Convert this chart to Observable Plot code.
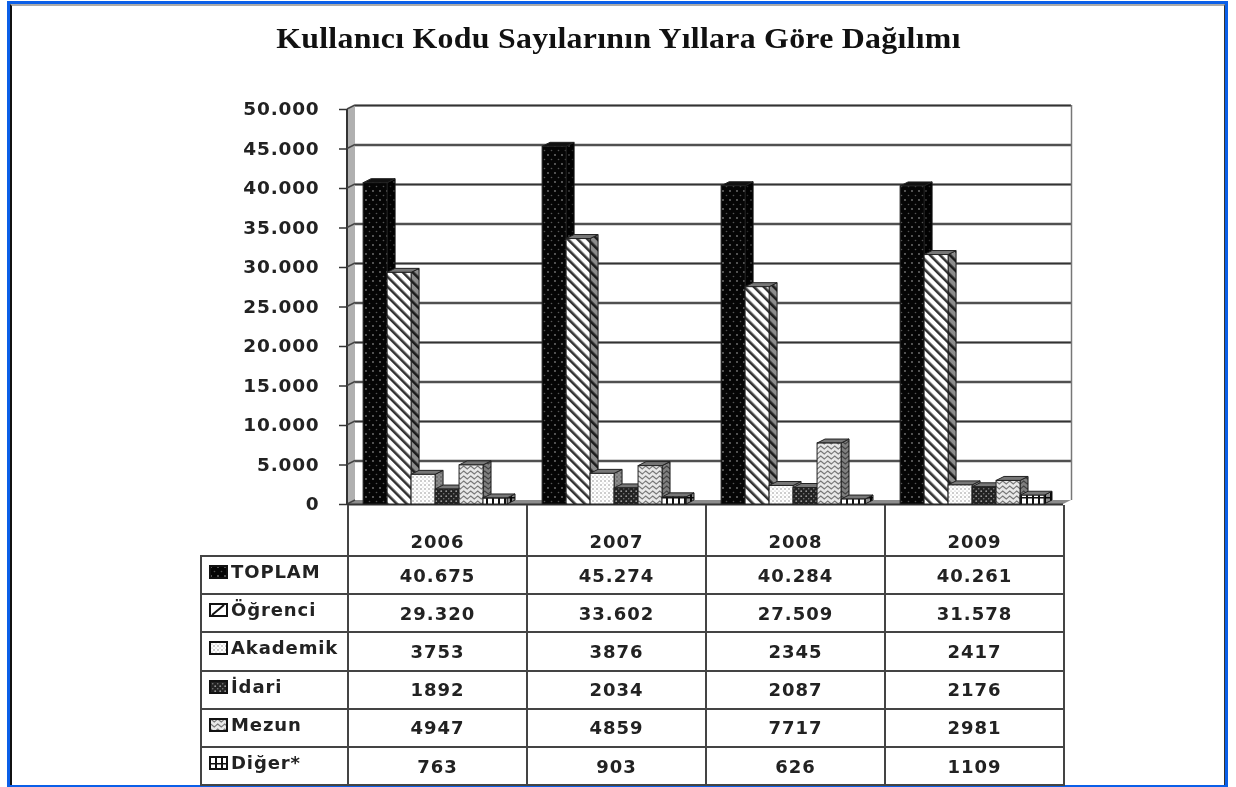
<!DOCTYPE html>
<html lang="tr">
<head>
<meta charset="utf-8">
<script src="https://cdn.jsdelivr.net/npm/d3@7"></script>
<script src="https://cdn.jsdelivr.net/npm/@observablehq/plot@0.6"></script>
<style>
html,body{margin:0;padding:0;background:#fff;width:1236px;height:787px;overflow:hidden}
#frame{position:absolute;left:7px;top:1px;width:1221px;height:786px;box-sizing:border-box;border:3px solid #0b5fe8;border-bottom-width:2px}
#frame:before{content:"";position:absolute;inset:0;border-left:2px solid #111;border-right:1px solid #333;border-top:2px solid #aaa;}
#title{position:absolute;left:0;width:1236px;top:22px;text-align:center;font:bold 29px "Liberation Serif",serif;color:#111;letter-spacing:.25px;transform:translateX(.5px) scaleX(1.098);filter:blur(.4px)}
#chart{position:absolute;left:0;top:0;filter:blur(.45px)}
#chart text{letter-spacing:.8px}
#tbl{position:absolute;left:200px;top:505px;border-collapse:collapse;table-layout:fixed;width:863px;font:bold 18px "DejaVu Sans",sans-serif;color:#222;filter:blur(.4px)}
#tbl td{border:2px solid #444;padding:0;text-align:center;height:38.2px;box-sizing:border-box;letter-spacing:1px}
#tbl tr.head td{height:51px;vertical-align:bottom;padding-bottom:3px;border-top:0}
#tbl tr.head td.blank{border:0;border-bottom:2px solid #444}
#tbl td.name{text-align:left;padding:0 0 7px 7px;white-space:nowrap;letter-spacing:.9px}
#tbl td.name svg{vertical-align:-1px;margin-right:3px}
</style>
</head>
<body>
<div id="frame"></div>
<div id="title">Kullanıcı Kodu Sayılarının Yıllara Göre Dağılımı</div>
<div id="chart"></div>
<table id="tbl"></table>
<script>
const years = ["2006", "2007", "2008", "2009"];
const seriesNames = ["TOPLAM", "Öğrenci", "Akademik", "İdari", "Mezun", "Diğer*"];
const toplam = [40675, 45274, 40284, 40261];
const ogrenci = [29320, 33602, 27509, 31578];
const akademik = [3753, 3876, 2345, 2417];
const idari = [1892, 2034, 2087, 2176];
const mezun = [4947, 4859, 7717, 2981];
const diger = [763, 903, 626, 1109];
const seriesValues = [toplam, ogrenci, akademik, idari, mezun, diger];
const dottedSeries = ["TOPLAM", "Öğrenci"];
const yTicks = [0, 5000, 10000, 15000, 20000, 25000, 30000, 35000, 40000, 45000, 50000];

const patternIds = ["pT", "pO", "pA", "pI", "pM", "pD"];
const fmt = d3.formatLocale({decimal: ",", thousands: ".", grouping: [3], currency: ["", ""]}).format(",");

// depth of the pseudo-3D chart in pixels
const DX = 8, DY = 4;
const GROUP_PAD = 0.09, BAR = 0.134;

const rows = seriesNames.flatMap((name, s) => years.map((year, i) => ({
  name, year, value: seriesValues[s][i],
  x1: i + GROUP_PAD + s * BAR,
  x2: i + GROUP_PAD + (s + 1) * BAR
})));

const poly = (g, pts, fill, stroke = "none", sw = 0) =>
  g.append("polygon").attr("points", pts.map(p => p.join(",")).join(" "))
   .attr("fill", fill).attr("stroke", stroke).attr("stroke-width", sw);

const defsMark = () => {
  const svg = d3.create("svg:g");
  const defs = svg.append("defs");
  const pat = (id, w, h, inner, tr) => {
    const p = defs.append("pattern").attr("id", id).attr("width", w).attr("height", h).attr("patternUnits", "userSpaceOnUse");
    if (tr) p.attr("patternTransform", tr);
    p.html(inner);
  };
  pat("pT", 7, 9, '<rect width="7" height="9" fill="#050505"/><circle cx="2" cy="2" r=".9" fill="#777"/><circle cx="5.5" cy="6.5" r=".8" fill="#555"/>');
  pat("pO", 7, 7, '<rect width="7" height="7" fill="#fff"/><rect width="2.6" height="7" fill="#333"/>', "rotate(-45)");
  pat("pA", 4, 4, '<rect width="4" height="4" fill="#fff"/><circle cx="1" cy="1" r=".7" fill="#777"/><circle cx="3" cy="3" r=".6" fill="#aaa"/>');
  pat("pI", 5, 5, '<rect width="5" height="5" fill="#222"/><circle cx="1.2" cy="1.2" r=".9" fill="#999"/><circle cx="3.7" cy="3.7" r=".8" fill="#777"/>');
  pat("pM", 7, 5, '<rect width="7" height="5" fill="#e8e8e8"/><path d="M0 2.5 L1.75 1 L3.5 2.5 L5.25 4 L7 2.5" fill="none" stroke="#777" stroke-width="1.1"/>');
  pat("pD", 6, 7, '<rect width="6" height="7" fill="#fff"/><rect width="2" height="7" fill="#111"/><rect width="6" height="1.5" fill="#111"/>');
  return svg.node();
};

const wallsMark = (index, {x, y}) => {
  const g = d3.create("svg:g");
  const x0 = x(0), x4 = x(4), y0 = y(0), yt = y(50000);
  poly(g, [[x0, y0], [x0 + DX, y0 - DY], [x0 + DX, yt - DY], [x0, yt]], "#b0b0b0");
  poly(g, [[x0, y0], [x4, y0], [x4 + DX, y0 - DY], [x0 + DX, y0 - DY]], "#8c8c8c");
  g.append("line").attr("x1", x0).attr("x2", x0).attr("y1", y0).attr("y2", yt).attr("stroke", "#333").attr("stroke-width", 2);
  for (const t of yTicks) {
    g.append("line").attr("x1", x0).attr("x2", x0 + DX).attr("y1", y(t)).attr("y2", y(t) - DY).attr("stroke", "#444").attr("stroke-width", 1.5);
  }
  return g.node();
};

const facesMark = (name, patternId) => (index, {x, y}) => {
  const g = d3.create("svg:g");
  for (const d of rows.filter(r => r.name === name)) {
    const l = x(d.x1), r = x(d.x2), t = y(d.value), b = y(0);
    const side = [[r, b], [r + DX, b - DY], [r + DX, t - DY], [r, t]];
    poly(g, side, `url(#${patternId})`, "#222", 1);
    poly(g, side, "rgba(0,0,0,.45)");
    poly(g, [[l, t], [l + DX, t - DY], [r + DX, t - DY], [r, t]], name === "TOPLAM" ? "#111" : "#777", "#222", 1);
  }
  return g.node();
};

const barMarks = seriesNames.flatMap((name, s) => [
  facesMark(name, patternIds[s]),
  Plot.rectY(rows.filter(r => r.name === name), {
    x1: "x1", x2: "x2", y: "value",
    fill: `url(#${patternIds[s]})`, stroke: "#222", strokeWidth: 1, inset: 0
  })
]);

const plot = Plot.plot({
  width: 1236, height: 787,
  marginLeft: 347, marginRight: 173, marginTop: 109, marginBottom: 283,
  style: {background: "transparent", overflow: "visible"},
  x: {domain: [0, 4], axis: null},
  y: {domain: [0, 50000], axis: null},
  marks: [
    defsMark,
    wallsMark,
    Plot.ruleY(yTicks.filter(t => t > 0), {x1: 0, x2: 4, dx: DX, dy: -DY, stroke: "#a8a8a8", strokeWidth: 3.2}),
    Plot.ruleY(yTicks.filter(t => t > 0), {x1: 0, x2: 4, dx: DX, dy: -DY, stroke: "#333", strokeWidth: 1.3}),
    Plot.ruleX([4], {y1: 0, y2: 50000, dx: DX, dy: -DY, stroke: "#777", strokeWidth: 1.5}),
    Plot.ruleY([0], {x1: 0, x2: 4, stroke: "#333", strokeWidth: 2}),
    ...barMarks,
    Plot.axisY({
      ticks: yTicks, tickFormat: d => fmt(d), tickSize: 8, tickPadding: 20, label: null,
      fontSize: 18.5, fontWeight: "bold", fontFamily: "DejaVu Sans", fill: "#222", stroke: "#333", strokeWidth: 1.5,
      marginLeft: 347
    })
  ]
});
document.getElementById("chart").appendChild(plot);

// Data table under the chart, aligned with the year groups
const cellText = (name, v) => dottedSeries.includes(name) ? fmt(v) : String(v);
const tbl = d3.select("#tbl");
const cg = tbl.append("colgroup");
cg.append("col").style("width", "147px");
years.forEach(() => cg.append("col").style("width", "179px"));
const head = tbl.append("tr").attr("class", "head");
head.append("td").attr("class", "blank");
years.forEach(y => head.append("td").text(y));
seriesNames.forEach((name, s) => {
  const tr = tbl.append("tr");
  const td = tr.append("td").attr("class", "name");
  const swatch = name === "Öğrenci"
    ? '<rect x="1" y="1" width="17" height="12" fill="#fff" stroke="#111" stroke-width="2"/><line x1="3" y1="12" x2="15" y2="2" stroke="#111" stroke-width="2"/>'
    : `<rect x="1" y="1" width="17" height="12" fill="url(#${patternIds[s]})" stroke="#111" stroke-width="2"/>`;
  td.html(`<svg width="19" height="14">${swatch}</svg>`);
  td.append("span").text(name);
  seriesValues[s].forEach(v => tr.append("td").text(cellText(name, v)));
});
</script>
</body>
</html>
